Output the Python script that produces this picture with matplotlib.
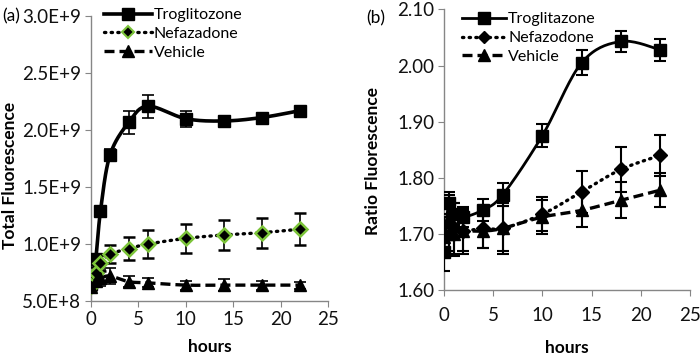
import numpy as np
import matplotlib
matplotlib.use("Agg")
import matplotlib.pyplot as plt
from matplotlib.lines import Line2D

plt.rcParams['font.family'] = ['Lato', 'DejaVu Sans']

hours = [0, 0.5, 1, 2, 4, 6, 10, 14, 18, 22]

# Panel (a): Total Fluorescence
trog_a = [6.5e8, 8.7e8, 1.29e9, 1.78e9, 2.07e9, 2.21e9, 2.10e9, 2.08e9, 2.11e9, 2.17e9]
trog_a_err = [0.03e9, 0.03e9, 0.03e9, 0.05e9, 0.1e9, 0.1e9, 0.07e9, 0.02e9, 0.02e9, 0.02e9]
nefa_a = [6.3e8, 7.5e8, 8.3e8, 9.1e8, 9.6e8, 1.0e9, 1.05e9, 1.08e9, 1.10e9, 1.13e9]
nefa_a_err = [0.03e9, 0.05e9, 0.07e9, 0.08e9, 0.1e9, 0.12e9, 0.13e9, 0.13e9, 0.13e9, 0.14e9]
veh_a = [6.2e8, 6.8e8, 7.0e8, 7.2e8, 6.7e8, 6.6e8, 6.4e8, 6.4e8, 6.4e8, 6.4e8]
veh_a_err = [0.03e9, 0.05e9, 0.07e9, 0.07e9, 0.05e9, 0.04e9, 0.04e9, 0.05e9, 0.04e9, 0.03e9]

# Panel (b): Ratio Fluorescence
trog_b = [1.668, 1.755, 1.735, 1.73, 1.743, 1.77, 1.875, 2.005, 2.043, 2.028]
trog_b_err = [0.035, 0.02, 0.02, 0.018, 0.02, 0.02, 0.02, 0.022, 0.018, 0.02]
nefa_b = [1.70, 1.72, 1.71, 1.705, 1.71, 1.71, 1.735, 1.775, 1.815, 1.84]
nefa_b_err = [0.03, 0.05, 0.045, 0.035, 0.035, 0.045, 0.03, 0.037, 0.04, 0.036]
veh_b = [1.695, 1.70, 1.70, 1.705, 1.705, 1.71, 1.73, 1.742, 1.76, 1.778]
veh_b_err = [0.02, 0.035, 0.04, 0.04, 0.03, 0.04, 0.03, 0.03, 0.032, 0.03]

labels_a = ['Troglitozone', 'Nefazadone', 'Vehicle']
labels_b = ['Troglitazone', 'Nefazodone', 'Vehicle']

a_ticks = [5.0e8, 1.0e9, 1.5e9, 2.0e9, 2.5e9, 3.0e9]
a_ticklabels = ['5.0E+8', '1.0E+9', '1.5E+9', '2.0E+9', '2.5E+9', '3.0E+9']
b_ticks = [1.60, 1.70, 1.80, 1.90, 2.00, 2.10]
b_ticklabels = ['1.60', '1.70', '1.80', '1.90', '2.00', '2.10']
x_ticks = [0, 5, 10, 15, 20, 25]

GRAY = '#868686'
GREEN = '#7cc43a'
FS_TICK = 13.5
FS_LAB = 12.5
FS_LEG = 11.5


def smooth(x, y, xr, yr, n=20):
    """Excel-like smoothed line (Catmull-Rom) in normalized coordinates."""
    x = np.asarray(x, float); y = np.asarray(y, float)
    xs = x / xr; ys = y / yr
    P = np.column_stack([xs, ys])
    P = np.vstack([P[0], P, P[-1]])
    out = []
    for i in range(1, len(P) - 2):
        p0, p1, p2, p3 = P[i-1], P[i], P[i+1], P[i+2]
        t = np.linspace(0, 1, n)[:, None]
        seg = 0.5 * ((2*p1) + (-p0 + p2)*t + (2*p0 - 5*p1 + 4*p2 - p3)*t**2 + (-p0 + 3*p1 - 3*p2 + p3)*t**3)
        out.append(seg)
    S = np.vstack(out)
    return S[:, 0] * xr, S[:, 1] * yr


fig = plt.figure(figsize=(7, 3.58), dpi=100)
axa = fig.add_axes([0.130, 0.159, 0.3386, 0.796])
axb = fig.add_axes([0.634, 0.190, 0.3517, 0.7835])

dash = (0, (3.0, 1.5))
dots = (0, (0.4, 1.6))


def style(ax, ylim, yt, ytl, ylabel, xpad):
    ax.set_xlim(0, 25)
    ax.set_ylim(*ylim)
    ax.set_xticks(x_ticks)
    ax.set_yticks(yt)
    ax.set_yticklabels(ytl)
    for s in ['top', 'right']:
        ax.spines[s].set_visible(False)
    for s in ['left', 'bottom']:
        ax.spines[s].set_color(GRAY)
        ax.spines[s].set_linewidth(1.0)
    ax.tick_params(axis='both', colors=GRAY, labelcolor='#111111', labelsize=FS_TICK, length=4, direction='out')
    ax.tick_params(axis='y', pad=3)
    ax.tick_params(axis='x', pad=xpad)
    ax.set_ylabel(ylabel, fontsize=FS_LAB, fontweight='bold')
    ax.set_xlabel('hours', fontsize=FS_LAB, fontweight='bold')


# Panel (a)
xr, yr = 25, 2.5e9
sx, sy = smooth(hours, trog_a, xr, yr)
axa.plot(sx, sy, color='black', lw=2.6, zorder=3)
axa.errorbar(hours, trog_a, yerr=trog_a_err, fmt='s', color='black', ms=8, capsize=4, elinewidth=1.2, capthick=1.2, zorder=4)
sx, sy = smooth(hours, nefa_a, xr, yr)
axa.plot(sx, sy, color='black', lw=2.4, linestyle=dots, dash_capstyle='round', zorder=3)
axa.errorbar(hours, nefa_a, yerr=nefa_a_err, fmt='D', color='black', mfc='black', mec=GREEN, mew=1.8, ms=7, capsize=4, elinewidth=1.2, capthick=1.2, zorder=4)
sx, sy = smooth(hours, veh_a, xr, yr)
axa.plot(sx, sy, color='black', lw=2.4, linestyle=dash, zorder=3)
axa.errorbar(hours, veh_a, yerr=veh_a_err, fmt='^', color='black', ms=8, capsize=4, elinewidth=1.2, capthick=1.2, zorder=4)
style(axa, (5.0e8, 3.0e9), a_ticks, a_ticklabels, 'Total Fluorescence', 3)
axa.xaxis.set_label_coords(0.5, -38 / 285, transform=axa.transAxes)
axa.yaxis.set_label_coords(-73 / 237, 0.442, transform=axa.transAxes)

ha = [Line2D([], [], color='black', lw=2.6, marker='s', ms=8),
      Line2D([], [], color='black', lw=2.4, linestyle=dots, dash_capstyle='round', marker='D', mfc='black', mec=GREEN, mew=1.5, ms=6),
      Line2D([], [], color='black', lw=2.4, linestyle=dash, marker='^', ms=8)]
axa.legend(ha, labels_a, loc='upper left', bbox_to_anchor=(0.055, 1.028), frameon=False, borderpad=0,
           fontsize=FS_LEG, handlelength=3.0, handletextpad=0.1, labelspacing=0.28, borderaxespad=0)

# Panel (b)
xr, yr = 25, 0.5
sx, sy = smooth(hours, trog_b, xr, yr)
axb.plot(sx, sy, color='black', lw=2.0, zorder=3)
axb.errorbar(hours, trog_b, yerr=trog_b_err, fmt='s', color='black', ms=9, capsize=4, elinewidth=1.5, capthick=1.5, zorder=4)
sx, sy = smooth(hours, nefa_b, xr, yr)
axb.plot(sx, sy, color='black', lw=2.4, linestyle=dots, dash_capstyle='round', zorder=3)
axb.errorbar(hours, nefa_b, yerr=nefa_b_err, fmt='D', color='black', ms=7, capsize=4, elinewidth=1.5, capthick=1.5, zorder=4)
sx, sy = smooth(hours, veh_b, xr, yr)
axb.plot(sx, sy, color='black', lw=2.4, linestyle=dash, zorder=3)
axb.errorbar(hours, veh_b, yerr=veh_b_err, fmt='^', color='black', ms=8, capsize=4, elinewidth=1.5, capthick=1.5, zorder=4)
style(axb, (1.60, 2.10), b_ticks, b_ticklabels, 'Ratio Fluorescence', 8)
axb.xaxis.set_label_coords(0.5, -50 / 280.5, transform=axb.transAxes)
axb.yaxis.set_label_coords(-63 / 246, 0.46, transform=axb.transAxes)

hb = [Line2D([], [], color='black', lw=2.0, marker='s', ms=9),
      Line2D([], [], color='black', lw=2.4, linestyle=dots, dash_capstyle='round', marker='D', ms=6),
      Line2D([], [], color='black', lw=2.4, linestyle=dash, marker='^', ms=8)]
axb.legend(hb, labels_b, loc='upper left', bbox_to_anchor=(0.073, 0.99), frameon=False, borderpad=0,
           fontsize=FS_LEG, handlelength=2.8, handletextpad=0.1, labelspacing=0.28, borderaxespad=0)

fig.text(0.003, 0.955, '(a)', fontsize=FS_LAB, va='center', ha='left')
fig.text(0.523, 0.95, '(b)', fontsize=FS_LAB, va='center', ha='left')

fig.savefig('out.png', dpi=100)
